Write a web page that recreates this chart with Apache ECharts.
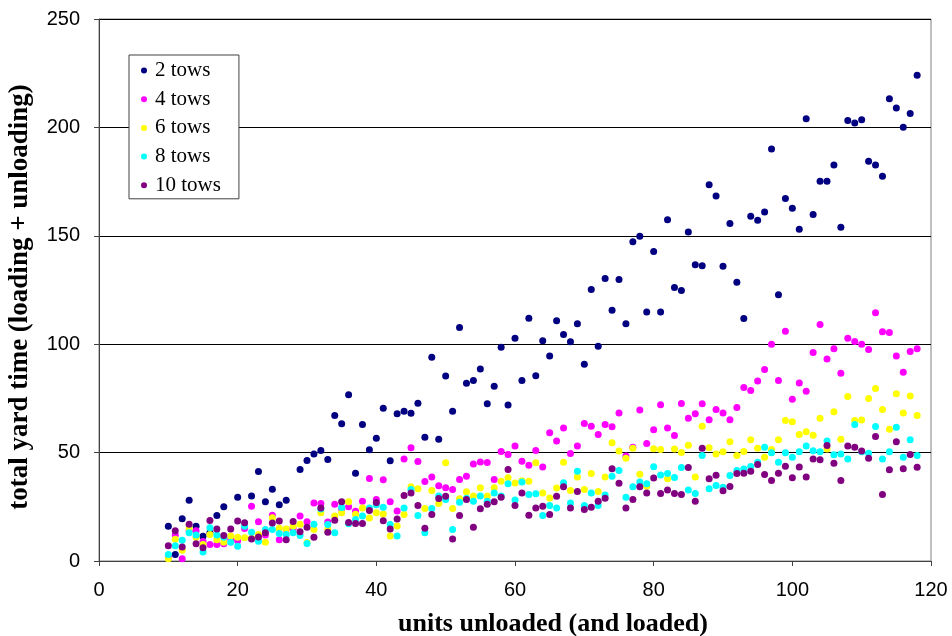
<!DOCTYPE html>
<html>
<head>
<meta charset="utf-8">
<script src="https://cdn.jsdelivr.net/npm/echarts@6/dist/echarts.min.js"></script>
<style>html,body{margin:0;padding:0;background:#fff}#c{width:952px;height:636px}</style>
</head>
<body>
<div id="c"></div>
<script>
const units = [10,11,12,13,14,15,16,17,18,19,20,21,22,23,24,25,26,27,28,29,30,31,32,33,34,35,36,37,38,39,40,41,42,43,44,45,46,47,48,49,50,51,52,53,54,55,56,57,58,59,60,61,62,63,64,65,66,67,68,69,70,71,72,73,74,75,76,77,78,79,80,81,82,83,84,85,86,87,88,89,90,91,92,93,94,95,96,97,98,99,100,101,102,103,104,105,106,107,108,109,110,111,112,113,114,115,116,117,118];
const tows2 = [16,3,19.5,28,16,11.4,13,21,25,null,29.4,null,30,41.3,27.3,33.1,26,28,null,42.2,46.4,49.3,51,46.8,67.1,63.3,76.7,40.5,63,51.3,56.6,70.5,46.2,67.9,69.1,68.2,72.8,57.1,94,56.2,85.3,69.1,107.7,82,83.3,88.6,72.5,80.6,98.6,72,102.8,83.3,112,85.4,101.6,94.5,110.8,104.5,101.1,109.4,90.8,125.2,99.1,130.3,115.7,129.8,109.4,147.2,149.8,114.8,142.8,114.9,157.4,126.2,124.8,151.8,136.6,136.2,173.5,168.4,136,155.7,128.6,111.9,159,157.2,161,190,122.8,167.2,162.7,153,204,159.8,175.2,175.2,182.6,154,203.2,202,203.5,184.4,182.6,177.5,213.2,208.9,200.1,206.4,224];
const tows4 = [2,12,1,14,14,9,7.6,7.6,7.9,10,9.3,15,25.3,18.1,12,21.1,9.8,14.5,15,20.7,18.1,26.8,26.5,18,26.2,24,25,23,27.6,38.1,28.4,37.5,27.3,23.1,47.1,52.2,45.9,36.7,38.8,34.7,33.8,33,37.6,39.1,44.7,45.7,45.4,37.6,50.5,49.1,53,46,44.2,51,43.4,59.1,55.4,61.3,49.6,53,63.4,62.2,58.3,63,61.9,68.3,48.4,52.5,69.6,54.2,60.5,72.1,61.3,57.9,72.6,65.9,67.9,72.5,65.1,69.9,68.3,65.1,70.8,80,78.6,83,88.3,100,83.3,106,74.6,82.1,78.3,96.2,109.1,93.2,97.9,86.6,102.8,101.2,100,97.5,114.5,105.8,105.4,94.5,87.1,96.6,97.9];
const tows6 = [1,10,5,15,11,7.6,12.2,9.8,8.7,11.5,11,10.7,10.5,12.2,8.7,19.9,15.1,14.8,16,17,8.5,14.5,22.2,14.8,20.7,22.3,27.3,21.6,24.5,19.8,22.2,21.7,11.5,16.1,21.4,34.2,33.3,24.2,32.5,26.5,45.3,24.2,28.7,31.9,30,33.8,30,33.8,36.8,38.4,36,37,36.8,45.3,31.4,29.1,33.7,45.6,32.5,38.7,33,40.4,32.1,38.8,54.5,50.7,47.4,52,40,34.5,51.8,51.4,37.9,51.7,50,53.4,38.8,62.2,52.2,49.3,50.4,55,48.7,50.5,55.9,52,47.9,51.4,55.9,64.8,64.2,58.4,59.6,58,65.9,51.7,68.8,56.2,75.9,64.8,65,75,79.6,69.9,60.8,77.1,68.3,76.1,67.1];
const tows8 = [3,7,9.6,13,12,4.2,15.3,12,11,8.7,6.8,16,13.3,9.1,14.5,14.5,12.7,12.2,13,11.8,8.1,17,24,16.8,13,24.7,17.2,19.1,20.7,24.5,26,24.8,16.8,11.5,24.4,33,21,13,24.2,30,28.4,14.5,27.1,29,27.6,30,27.6,31.4,30,35.6,28.1,36.4,30.7,31,21,25.6,24.5,36.1,26.8,41.4,25.6,31.4,25.6,30.5,39.1,41.7,29.4,34.2,36.4,35.6,43.5,39.7,40.4,38.5,43.1,32.8,31.1,48.7,33.3,34.8,34,39.4,41.7,42.4,43.6,45.6,52.5,49.9,45.6,49.9,47.9,50.4,53,50.8,50.4,55.3,49,49.4,47.1,63,50.4,49.7,62,47.1,50.4,61.7,47.9,55.9,48.7];
const tows10 = [7,14,6.5,17,8,6.1,18.7,14.8,11.8,14.8,18.5,17.6,10.2,11.1,13,17.5,18.4,9.8,18.2,13.5,15.6,11,24.5,13.3,18.8,27.3,17.8,17.3,17.3,23.3,27,18.6,14.8,19.4,30.2,31.4,25.6,15.1,21.4,28.8,29.9,10.2,21,28.4,15.6,24.1,26.2,27.3,29.4,42.2,25.6,31.4,21.1,24.5,25.3,21.4,29.9,34.2,24.4,32.1,23.8,24.8,27.6,29,42.5,35.9,24.4,28.4,34.2,31.4,38.3,31.1,32.8,31.1,30.7,43.1,27.6,52,37.9,39.6,32.4,34.4,40.4,40.5,41.4,44.5,39.9,37.1,40.5,43.7,38.4,43.4,38.8,47.1,46.7,53.3,45.1,37.1,53,52.5,50.7,47.4,57.4,30.7,42.1,55,42.5,49.1,43.3];
const seriesNames = ['2 tows','4 tows','6 tows','8 tows','10 tows'];
const seriesColors = ['#000080','#FF00FF','#FFFF00','#00FFFF','#800080'];
const xTicks = [0,20,40,60,80,100,120];
const yTicks = [0,50,100,150,200,250];

const allValues = [tows2, tows4, tows6, tows8, tows10];
function pairs(vals){ const out=[]; for(let i=0;i<units.length;i++){ if(vals[i]!==null) out.push([units[i], vals[i]]); } return out; }

const chart = echarts.init(document.getElementById('c'), null, {renderer:'canvas'});
chart.setOption({
  animation:false,
  backgroundColor:'#ffffff',
  grid:{left:99, right:21, top:19, bottom:75, show:true, borderColor:'#808080', borderWidth:1, containLabel:false, outerBoundsMode:'none'},
  legend:{
    orient:'vertical', left:129, top:55,
    padding:[5,18,3,12],
    backgroundColor:'#ffffff', borderColor:'#404040', borderWidth:1, borderRadius:0,
    itemWidth:12, itemHeight:6, itemGap:7.7,
    textStyle:{fontFamily:'Liberation Serif', fontSize:21, color:'#000', lineHeight:21},
    data: seriesNames.map(n=>({name:n, icon:'circle'}))
  },
  xAxis:{
    type:'value', min:xTicks[0], max:xTicks[xTicks.length-1], interval:20,
    name:'units unloaded (and loaded)', nameLocation:'middle', nameGap:50, nameMoveOverlap:false,
    nameTextStyle:{fontFamily:'Liberation Serif', fontWeight:'bold', fontSize:26, color:'#000', padding:[0,0,0,76]},
    axisLine:{show:true, lineStyle:{color:'#404040', width:1}},
    axisTick:{show:true, inside:false, length:5, lineStyle:{color:'#404040'}},
    axisLabel:{fontFamily:'Liberation Sans', fontSize:20, color:'#000', margin:19},
    splitLine:{show:false}
  },
  yAxis:{
    type:'value', min:yTicks[0], max:yTicks[yTicks.length-1], interval:50,
    name:'total yard time (loading + unloading)', nameLocation:'middle', nameGap:65, nameMoveOverlap:false,
    nameTextStyle:{fontFamily:'Liberation Serif', fontWeight:'bold', fontSize:27, color:'#000', padding:[0,14,0,0]},
    axisLine:{show:true, lineStyle:{color:'#404040', width:1}},
    axisTick:{show:true, inside:false, length:5, lineStyle:{color:'#404040'}},
    axisLabel:{fontFamily:'Liberation Sans', fontSize:20, color:'#000', margin:19},
    splitLine:{show:true, lineStyle:{color:'#000000', width:1}}
  },
  series: seriesNames.map((n,i)=>({
    name:n, type:'scatter', symbol:'circle', symbolSize:7,
    itemStyle:{color:seriesColors[i], opacity:1},
    data: pairs(allValues[i])
  }))
});
</script>
</body>
</html>
